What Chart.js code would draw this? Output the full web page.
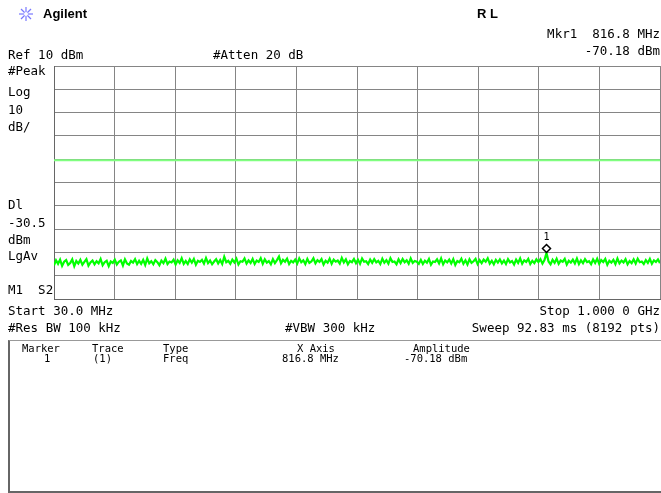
<!DOCTYPE html>
<html>
<head>
<meta charset="utf-8">
<script src="https://cdn.jsdelivr.net/npm/chart.js@4.4.0/dist/chart.umd.min.js"></script>
<style>
  body { margin: 0; background: #fff; width: 661px; height: 493px; overflow: hidden; position: relative;
         font-family: "DejaVu Sans Mono", monospace; font-size: 12.5px; color: #000; }
  .t { position: absolute; white-space: pre; line-height: 14px; }
  .r { right: 1px; text-align: right; }
  .tb { font-size: 10.5px; line-height: 11px; }
  #chart { position: absolute; left: 0; top: 0; }
  #box { position: absolute; left: 8px; top: 340px; width: 653px; height: 150px;
         border-left: 2px solid #666; border-top: 1px solid #999; border-bottom: 2px solid #666; }
</style>
</head>
<body>
<canvas id="chart" width="661" height="493"></canvas>

<!-- header -->
<svg style="position:absolute;left:18px;top:6px" width="16" height="16" viewBox="0 0 16 16">
  <g stroke="#7878ff" stroke-width="1.2">
    <line x1="8" y1="1" x2="8" y2="15"/><line x1="1" y1="8" x2="15" y2="8"/>
    <line x1="3" y1="3" x2="13" y2="13"/><line x1="13" y1="3" x2="3" y2="13"/>
  </g>
  <circle cx="8" cy="8" r="2" fill="#fff"/>
</svg>
<div class="t" style="left:43px;top:6px;font:bold 13px 'Liberation Sans',Arial,sans-serif">Agilent</div>
<div class="t" style="left:477px;top:6px;font:bold 13px 'Liberation Sans',Arial,sans-serif">R L</div>
<div class="t r" style="top:27px">Mkr1  816.8 MHz</div>
<div class="t r" style="top:44px">-70.18 dBm</div>
<div class="t" style="left:8px;top:48px">Ref 10 dBm</div>
<div class="t" style="left:213px;top:48px">#Atten 20 dB</div>

<!-- left annotations -->
<div class="t" style="left:8px;top:64px">#Peak</div>
<div class="t" style="left:8px;top:85px">Log</div>
<div class="t" style="left:8px;top:103px">10</div>
<div class="t" style="left:8px;top:120px">dB/</div>
<div class="t" style="left:8px;top:198px">Dl</div>
<div class="t" style="left:8px;top:216px">-30.5</div>
<div class="t" style="left:8px;top:233px">dBm</div>
<div class="t" style="left:8px;top:249px">LgAv</div>
<div class="t" style="left:8px;top:283px">M1  S2</div>

<!-- footer -->
<div class="t" style="left:8px;top:304px">Start 30.0 MHz</div>
<div class="t r" style="top:304px">Stop 1.000 0 GHz</div>
<div class="t" style="left:8px;top:321px">#Res BW 100 kHz</div>
<div class="t" style="left:285px;top:321px">#VBW 300 kHz</div>
<div class="t r" style="top:321px">Sweep 92.83 ms (8192 pts)</div>

<div id="box"></div>
<div class="t tb" style="left:22px;top:343px">Marker</div>
<div class="t tb" style="left:92px;top:343px">Trace</div>
<div class="t tb" style="left:163px;top:343px">Type</div>
<div class="t tb" style="left:297px;top:343px">X Axis</div>
<div class="t tb" style="left:413px;top:343px">Amplitude</div>
<div class="t tb" style="left:44px;top:353px">1</div>
<div class="t tb" style="left:93px;top:353px">(1)</div>
<div class="t tb" style="left:163px;top:353px">Freq</div>
<div class="t tb" style="left:282px;top:353px">816.8 MHz</div>
<div class="t tb" style="left:404px;top:353px">-70.18 dBm</div>

<script>
// sweep settings (MHz, dBm)
const startFreq = 30;
const stopFreq = 1000;
const refLevel = 10;
const bottomLevel = -90;
const displayLine = -30.5;
const markerFreq = 816.8;
const markerAmp = -70.18;

// vertical graticule positions (10 divisions over the span)
const xTicks = [30, 127, 224, 321, 418, 515, 612, 709, 806, 903, 1000];

// trace amplitudes, evenly spaced over the sweep
const traceAmp = [
  -75.6,-73.4,-74.9,-73.1,-75.8,-74.0,-73.3,-75.4,-74.6,-73.0,-75.9,-73.7,-74.8,-73.2,-75.3,-74.1,-72.9,-75.7,-74.3,-73.5,
  -75.1,-73.8,-74.7,-72.8,-75.5,-74.2,-73.6,-75.9,-73.9,-74.5,-73.1,-75.2,-74.0,-73.4,-75.6,-73.0,-74.8,-75.3,-73.7,-74.4,
  -72.9,-75.0,-73.6,-74.9,-73.2,-75.4,-72.6,-74.7,-73.8,-75.1,-73.3,-74.2,-75.5,-73.5,-74.6,-72.7,-75.0,-73.9,-74.3,-73.1,
  -75.2,-73.4,-74.5,-72.5,-74.9,-73.7,-75.0,-73.0,-74.4,-72.8,-75.3,-73.6,-74.1,-73.2,-74.8,-72.4,-74.6,-73.5,-75.1,-73.9,
  -72.9,-74.7,-73.3,-75.0,-71.9,-74.2,-73.6,-74.9,-73.1,-74.3,-72.7,-75.2,-73.8,-74.0,-72.6,-74.8,-73.4,-74.5,-72.8,-75.0,
  -73.5,-74.1,-72.5,-74.9,-73.0,-74.4,-73.7,-75.1,-72.9,-74.6,-73.3,-71.8,-74.7,-73.2,-74.0,-72.7,-75.0,-73.6,-74.3,-73.1,
  -74.8,-72.6,-74.2,-73.4,-75.0,-72.8,-74.5,-73.9,-72.5,-74.7,-73.3,-74.1,-72.9,-75.2,-73.6,-74.4,-72.7,-74.9,-73.1,-74.0,
  -73.5,-74.8,-72.4,-74.3,-73.0,-75.1,-73.7,-74.2,-72.8,-74.6,-73.2,-74.9,-72.6,-74.0,-73.8,-75.0,-73.1,-74.5,-72.9,-74.3,
  -73.6,-75.0,-72.7,-74.4,-73.3,-74.8,-72.5,-74.1,-73.9,-75.1,-73.0,-74.6,-72.8,-74.2,-73.4,-74.9,-72.6,-74.5,-73.7,-74.0,
  -74.9,-73.2,-75.0,-73.6,-74.4,-72.8,-75.3,-73.9,-74.1,-73.0,-74.7,-72.6,-75.1,-73.5,-74.3,-73.1,-74.8,-72.9,-75.4,-73.7,
  -74.2,-72.7,-74.9,-73.4,-75.2,-73.0,-74.5,-73.8,-72.8,-75.0,-73.3,-74.6,-73.1,-74.0,-72.5,-74.8,-73.6,-75.1,-73.2,-74.4,
  -73.0,-74.7,-73.5,-75.0,-72.9,-74.3,-73.7,-75.2,-73.1,-74.5,-72.6,-74.9,-73.4,-74.1,-72.8,-75.0,-73.6,-74.6,-73.0,-74.2,
  -72.9,-74.8,-73.3,-70.2,-73.9,-75.1,-73.2,-74.5,-72.7,-74.9,-73.5,-74.0,-72.8,-75.2,-73.6,-74.4,-73.1,-74.7,-72.6,-75.0,
  -73.4,-74.6,-72.9,-74.2,-73.8,-75.1,-73.0,-74.5,-72.7,-74.9,-73.3,-74.1,-72.8,-75.3,-73.6,-74.4,-73.2,-75.0,-72.6,-74.7,
  -73.5,-74.3,-72.9,-75.1,-73.7,-74.6,-73.0,-74.8,-72.7,-74.2,-73.9,-75.0,-73.3,-74.5,-72.8,-74.9,-73.4,-74.1,-73.0,-74.6
];

const freqStep = (stopFreq - startFreq) / (traceAmp.length - 1);
const tracePoints = traceAmp.map((a, i) => ({ x: startFreq + i * freqStep, y: a }));

// marker diamond with its number, sitting just above the trace point
const markerPlugin = {
  id: 'marker',
  afterDatasetsDraw(chart) {
    const { ctx, scales } = chart;
    const px = Math.round(scales.x.getPixelForValue(markerFreq)) + 0.5;
    const py = Math.round(scales.y.getPixelForValue(markerAmp)) - 4.5;
    ctx.save();
    ctx.beginPath();
    ctx.moveTo(px, py - 4);
    ctx.lineTo(px + 4, py);
    ctx.lineTo(px, py + 4);
    ctx.lineTo(px - 4, py);
    ctx.closePath();
    ctx.fillStyle = '#fff';
    ctx.fill();
    ctx.lineWidth = 1.5;
    ctx.strokeStyle = '#000';
    ctx.stroke();
    ctx.fillStyle = '#000';
    ctx.font = '10px "DejaVu Sans Mono"';
    ctx.textAlign = 'center';
    ctx.textBaseline = 'middle';
    ctx.fillText('1', px, py - 11);
    ctx.restore();
  }
};

new Chart(document.getElementById('chart'), {
  type: 'scatter',
  data: {
    datasets: [
      {
        data: [{ x: startFreq, y: displayLine }, { x: stopFreq, y: displayLine }],
        showLine: true,
        borderColor: '#80ff80',
        borderWidth: 2,
        pointRadius: 0
      },
      {
        data: tracePoints,
        showLine: true,
        borderColor: '#00ff00',
        borderWidth: 2.2,
        pointRadius: 0
      }
    ]
  },
  options: {
    responsive: false,
    animation: false,
    events: [],
    layout: { padding: { left: 54, top: 66, right: 1, bottom: 194 } },
    plugins: { legend: { display: false }, tooltip: { enabled: false } },
    scales: {
      x: {
        type: 'linear',
        min: startFreq,
        max: stopFreq,
        afterBuildTicks: scale => { scale.ticks = xTicks.map(v => ({ value: v })); },
        ticks: { display: false },
        grid: { color: '#858585', drawTicks: false },
        border: { color: '#666' }
      },
      y: {
        min: bottomLevel,
        max: refLevel,
        ticks: { display: false, stepSize: 10 },
        grid: { color: '#858585', drawTicks: false },
        border: { color: '#666' }
      }
    }
  },
  plugins: [markerPlugin]
});
</script>
</body>
</html>
